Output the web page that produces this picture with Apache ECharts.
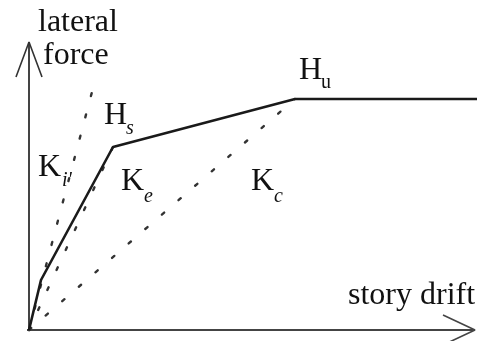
<!DOCTYPE html>
<html>
<head>
<meta charset="utf-8">
<script src="https://cdn.jsdelivr.net/npm/echarts@6/dist/echarts.min.js"></script>
<style>
html,body{margin:0;padding:0;background:#fff;}
#c{width:477px;height:341px;}
</style>
</head>
<body>
<div id="c"></div>
<script>
// Trilinear lateral force – story drift curve (arbitrary units)
const curveDrift = [0, 12, 84, 266, 448];
const curveForce = [0, 50, 183, 231, 231];
// secant / initial stiffness lines (start at origin)
const kiLine = [[0, 0], [63, 238]];
const keLine = [[0, 0], [84, 183]];
const kcLine = [[0, 0], [266, 231]];
// axes and arrow heads
const xAxisLine = [[-2, 0], [446, 0]];
const yAxisLine = [[0, 0], [0, 288]];
const xArrow = [[414, 15], [446, 0], [414, -15]];
const yArrow = [[-13, 253], [0, 288], [13, 253]];

const curve = curveDrift.map((d, i) => [d, curveForce[i]]);

const chart = echarts.init(document.getElementById('c'), null, {renderer: 'canvas'});
const dotted = {color: '#333', width: 2.4, type: [3, 19], cap: 'round'};
const axisStyle = {color: '#444', width: 2};
const serif = 'Liberation Serif';
const mainSize = 32, subSize = 20;
function txt(text, x, top, size, italic) {
  return {type: 'text', x: x, y: top, silent: true,
    style: {text: text, fill: '#111', font: (italic ? 'italic ' : '') + size + 'px "' + serif + '"'}};
}
chart.setOption({
  animation: false,
  backgroundColor: '#fff',
  grid: {left: 0, right: 0, top: 0, bottom: 0},
  xAxis: {type: 'value', min: -29, max: 448, show: false},
  yAxis: {type: 'value', min: -11, max: 330, show: false},
  series: [
    {type: 'line', data: xAxisLine, symbol: 'none', lineStyle: axisStyle},
    {type: 'line', data: yAxisLine, symbol: 'none', lineStyle: axisStyle},
    {type: 'line', data: xArrow, symbol: 'none', lineStyle: {color: '#444', width: 1.6}},
    {type: 'line', data: yArrow, symbol: 'none', lineStyle: {color: '#333', width: 1.6}},
    {type: 'line', data: kiLine, symbol: 'none', lineStyle: dotted},
    {type: 'line', data: keLine, symbol: 'none', lineStyle: dotted},
    {type: 'line', data: kcLine, symbol: 'none', lineStyle: dotted},
    {type: 'line', data: curve, symbol: 'none', lineStyle: {color: '#1a1a1a', width: 2.6}}
  ],
  graphic: [
    txt('lateral', 38, 7, mainSize),
    txt('force', 43, 40, mainSize),
    txt('H', 299, 55, mainSize), txt('u', 321, 73, subSize),
    txt('H', 104, 100, mainSize), txt('s', 126, 119, subSize, true),
    txt('K', 38, 152, mainSize), txt("i'", 62, 171, subSize, true),
    txt('K', 121, 166, mainSize), txt('e', 144, 187, subSize, true),
    txt('K', 251, 166, mainSize), txt('c', 274, 187, subSize, true),
    txt('story drift', 348, 280, mainSize)
  ]
});
</script>
</body>
</html>
